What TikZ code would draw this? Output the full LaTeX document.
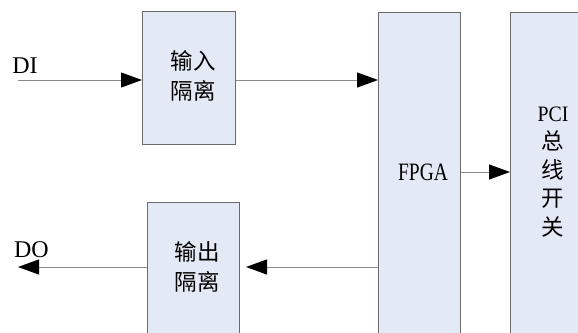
\documentclass[tikz,border=0pt]{standalone}
\usepackage{fontspec}
\usepackage{graphicx}
\setmainfont{Liberation Serif}
\newfontfamily\cjk{Noto Sans CJK SC}
\usetikzlibrary{arrows.meta}
\definecolor{boxfill}{HTML}{E4EAF5}
\definecolor{boxline}{HTML}{6A6A6A}
\definecolor{wirecol}{HTML}{8A8A8A}
\begin{document}
\begin{tikzpicture}[x=1pt,y=-1pt,
  block/.style={draw=boxline, fill=boxfill, line width=1pt, inner sep=0pt, anchor=north west},
  wire/.style={draw=wirecol, line width=1pt},
  flow/.style={wire, -{Triangle[length=21pt,width=15pt,color=black]}},
  latin/.style={font=\fontsize{24}{26}\selectfont, inner sep=0pt},
  cn/.style={font=\cjk\fontsize{22.5}{30}\selectfont, align=center, inner sep=0pt}
]
\useasboundingbox (0,0) rectangle (578,332);
\clip (0,0) rectangle (578,332);

% blocks
\node[block, minimum width=93pt, minimum height=133pt] (inIso) at (142,11) {};
\node[block, minimum width=92pt, minimum height=150pt] (outIso) at (147,202) {};
\node[block, minimum width=82pt, minimum height=340pt] (fpga) at (378,12) {};
\node[block, minimum width=90pt, minimum height=340pt] (pci) at (510,12) {};

% block texts
\node[cn] (inTxt) at (193,76) {输入\\隔离};
\node[cn] (outTxt) at (197,267) {输出\\隔离};
\node[latin, font=\fontsize{25}{26}\selectfont] (fpgaTxt) at (423,172) {\scalebox{0.78}[1]{FPGA}};
\node[cn, font=\cjk\fontsize{22.5}{28.5}\selectfont] (pciTxt) at (553,172) {{\rmfamily\fontsize{22}{22}\selectfont\scalebox{0.9}[1]{PCI}}\\总\\线\\开\\关};

% port labels
\node[latin] (diTxt) at (25,66) {DI};
\node[latin] (doTxt) at (31.5,250) {DO};

% connectors
\coordinate (diEnd) at (18,80);
\coordinate (doEnd) at (18,267);
\draw[flow] (diEnd) -- (diEnd -| inIso.west);
\draw[flow] (inIso.east |- diEnd) -- (diEnd -| fpga.west);
\draw[flow, shorten >=6pt] (fpga.west |- doEnd) -- (doEnd -| outIso.east);
\draw[flow] (outIso.west |- doEnd) -- (doEnd);
\draw[flow] (fpga.east |- fpgaTxt) -- (fpgaTxt -| pci.west);
\end{tikzpicture}
\end{document}
